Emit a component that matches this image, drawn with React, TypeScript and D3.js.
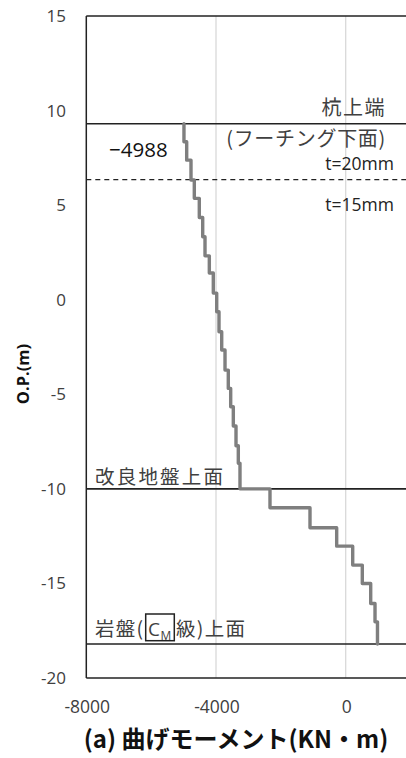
import React from "react";
import * as d3 from "d3";

// ---- data ----
const xTicks = [-8000, -4000, 0];
const yTicks = [15, 10, 5, 0, -5, -10, -15, -20];
// O.P. (m) at the top of each constant-moment segment
const segmentTops = [9.3, 8.35, 7.38, 6.33, 5.36, 4.35, 3.33, 2.32, 1.41, 0.35, -0.64, -1.69, -2.66, -3.72, -4.69, -5.66, -6.68, -7.72, -8.65, -10, -11, -12.06, -13.03, -14.03, -15, -16.06, -17.03];
const pileBottomOP = -18.2;
// bending moment (kN·m) in each segment
const moments = [-4988, -4904, -4771, -4669, -4515, -4410, -4339, -4206, -4083, -3978, -3907, -3824, -3722, -3621, -3547, -3466, -3383, -3312, -3260, -2335, -1101, -278, 216, 512, 771, 904, 980];
const pileTopOP = 9.3;
const thicknessChangeOP = 6.35;
const improvedGroundOP = -10;
const rockOP = -18.2;
const topMomentLabel = "−4988";

const W = 406;
const H = 758;
const FONT_NUM = "'Open Sans', 'Noto Sans', sans-serif";
const FONT_JP = "'Noto Sans CJK JP', sans-serif";

export default function App() {
  const x = d3.scaleLinear().domain([-8000, 0]).range([86.3, 345.7]);
  const y = d3.scaleLinear().domain([-20, 15]).range([678, 16]);
  const left = x(-8000);
  const right = 406;

  const pts: [number, number][] = [];
  segmentTops.forEach((top, i) => {
    const bottom = i + 1 < segmentTops.length ? segmentTops[i + 1] : pileBottomOP;
    pts.push([moments[i], top]);
    pts.push([moments[i], bottom]);
  });
  const line = d3
    .line<[number, number]>()
    .x((d) => x(d[0]))
    .y((d) => y(d[1]));

  const textCol = "#404040";

  return (
    <svg
      width={W}
      height={H}
      style={{ position: "absolute", left: 0, top: 0, background: "#fff" }}
    >
      <rect x={0} y={0} width={W} height={H} fill="#fff" />
      {/* vertical grid lines */}
      {xTicks
        .filter((t) => t !== -8000)
        .map((t) => (
          <line key={t} x1={x(t)} x2={x(t)} y1={y(15)} y2={y(-20)} stroke="#d9d9d9" strokeWidth={1.3} />
        ))}
      {/* frame */}
      <line x1={left} x2={right} y1={y(15)} y2={y(15)} stroke="#222" strokeWidth={1.5} />
      <line x1={left} x2={right} y1={y(-20)} y2={y(-20)} stroke="#222" strokeWidth={1.5} />
      <line x1={left} x2={left} y1={y(15)} y2={y(-20)} stroke="#222" strokeWidth={1.5} />
      {/* reference levels */}
      {[pileTopOP, improvedGroundOP, rockOP].map((v) => (
        <line key={v} x1={left} x2={right} y1={y(v)} y2={y(v)} stroke="#222" strokeWidth={1.6} />
      ))}
      <line
        x1={left}
        x2={right}
        y1={y(thicknessChangeOP)}
        y2={y(thicknessChangeOP)}
        stroke="#222"
        strokeWidth={1.4}
        strokeDasharray="5,4"
      />
      {/* moment line */}
      <path d={line(pts) || ""} fill="none" stroke="#7f7f7f" strokeWidth={3.4} strokeLinejoin="round" strokeLinecap="round" />

      {/* y ticks */}
      {yTicks.map((t) => (
        <text key={t} x={66} y={y(t)} dy="0.35em" textAnchor="end" fontFamily={FONT_NUM} fontSize={17} fill={textCol}>
          {t}
        </text>
      ))}
      {/* x ticks */}
      {xTicks.map((t) => (
        <text key={t} x={x(t) + 1} y={713} textAnchor="middle" fontFamily={FONT_NUM} fontSize={17.5} fill={textCol}>
          {t}
        </text>
      ))}
      {/* axis titles */}
      <text
        transform={`translate(29,374) rotate(-90)`}
        textAnchor="middle"
        fontFamily={FONT_NUM}
        fontWeight="bold"
        fontSize={16.5}
        fill="#111"
      >
        O.P.(m)
      </text>
      <text x={236} y={748} textAnchor="middle" fontFamily={FONT_JP} fontWeight="bold" fontSize={24} fill="#111">
        (a) 曲げモーメント(KN・m)
      </text>

      {/* annotations */}
      <text x={386} y={115} textAnchor="end" fontFamily={FONT_JP} fontSize={20} letterSpacing={1.5} fill={textCol}>
        杭上端
      </text>
      <text x={386} y={146} textAnchor="end" fontFamily={FONT_JP} fontSize={20} letterSpacing={0.7} fill={textCol}>
        (フーチング下面)
      </text>
      <text x={394} y={170} textAnchor="end" fontFamily={FONT_NUM} fontSize={17.5} fill="#222">
        t=20mm
      </text>
      <text x={394} y={211} textAnchor="end" fontFamily={FONT_NUM} fontSize={17.5} fill="#222">
        t=15mm
      </text>
      <text x={109} y={157} fontFamily={FONT_NUM} fontSize={20.5} fill="#111">
        {topMomentLabel}
      </text>
      <text x={95} y={484} fontFamily={FONT_JP} fontSize={19.5} letterSpacing={2.2} fill={textCol}>
        改良地盤上面
      </text>
      <text x={95} y={636} fontFamily={FONT_JP} fontSize={19.5} letterSpacing={1.3} fill={textCol}>
        岩盤(
      </text>
      <rect x={145.7} y={614} width={28.6} height={26.7} fill="none" stroke="#222" strokeWidth={1.5} />
      <text x={148} y={636} fontFamily={FONT_NUM} fontSize={19} fill={textCol}>
        C
      </text>
      <text x={160.5} y={640} fontFamily={FONT_NUM} fontSize={12} fill={textCol}>
        M
      </text>
      <text x={176} y={636} fontFamily={FONT_JP} fontSize={19.5} letterSpacing={1.3} fill={textCol}>
        級)上面
      </text>
    </svg>
  );
}
